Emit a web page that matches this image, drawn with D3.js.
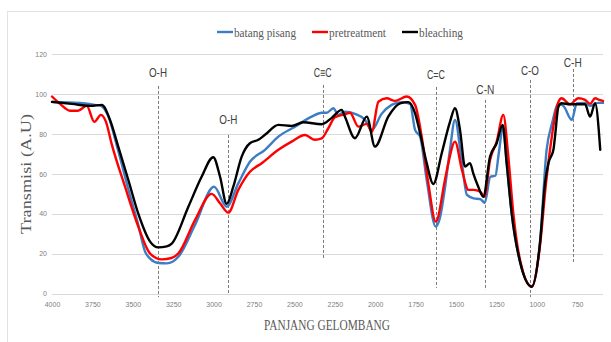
<!DOCTYPE html>
<html>
<head>
<meta charset="utf-8">
<script src="https://cdn.jsdelivr.net/npm/d3@7/dist/d3.min.js"></script>
<style>
  html, body { margin: 0; padding: 0; background: #fff; }
  svg { display: block; }
</style>
</head>
<body>
<script>
// FTIR spectra: wavenumber (cm-1) vs transmission (A.U)
const xTicks = [4000, 3750, 3500, 3250, 3000, 2750, 2500, 2250, 2000, 1750, 1500, 1250, 1000, 750];
const yTicks = [0, 20, 40, 60, 80, 100, 120];

const seriesNames = ["batang pisang", "pretreatment", "bleaching"];
const seriesColors = ["#3c7dc4", "#ff0000", "#000000"];

const batangPisang = [
  [4000, 96], [3827, 95.5], [3734, 94.5], [3697, 94], [3653, 89], [3592, 72], [3530, 53],
  [3468, 35], [3424, 21], [3393, 17.5], [3340, 15.3], [3290, 15.1], [3218, 18.4], [3115, 34.3], [2997, 53.5],
  [2919, 43.5], [2847, 55.2], [2775, 66], [2682, 72], [2599, 78.6], [2496, 83.6], [2393, 88.6],
  [2331, 90.6], [2300, 90.6], [2259, 92.8], [2228, 89.5], [2187, 91.1], [2125, 90], [2063, 87],
  [2021, 82], [1960, 90], [1898, 94.5], [1836, 95.9], [1784, 95], [1753, 82], [1722, 78.6],
  [1681, 56.9], [1625, 33.5], [1599, 38], [1568, 53], [1537, 72], [1506, 87], [1463, 65.3],
  [1432, 49.4], [1391, 47.7], [1349, 47.3], [1322, 45.5], [1287, 58.5], [1256, 59], [1235, 70.3],
  [1208, 83.5], [1186, 65], [1155, 40], [1104, 16], [1031, 3.6], [980, 25.5], [939, 72],
  [906, 85], [866, 95], [835, 94], [783, 87], [752, 95.3], [701, 95.5], [670, 94],
  [620, 95.5], [590, 95.5]
];

const pretreatment = [
  [4000, 98.7], [3950, 95], [3889, 91.6], [3839, 91.6], [3785, 94], [3738, 86], [3697, 89.5],
  [3666, 86], [3631, 75], [3548, 53.5], [3466, 33.5], [3393, 20], [3321, 17.1], [3260, 17.8], [3218, 20.1],
  [3115, 36.8], [3012, 49.9], [2960, 45.2], [2909, 40.5], [2847, 51.9], [2775, 61], [2702, 65.3],
  [2599, 72], [2517, 76.1], [2434, 79.4], [2372, 77], [2331, 77.7], [2290, 82.8], [2249, 88.3],
  [2187, 89.8], [2156, 90.6], [2104, 83.6], [2052, 85], [2021, 81], [1980, 96.1], [1929, 97.8],
  [1877, 96.5], [1805, 98.7], [1753, 94.5], [1712, 78.6], [1671, 55.2], [1625, 36], [1568, 57],
  [1547, 65.3], [1506, 76.1], [1463, 61.9], [1422, 51.9], [1391, 51.9], [1349, 51], [1324, 48.5],
  [1289, 66.9], [1248, 76.1], [1207, 89.5], [1176, 68.6], [1145, 40.2], [1104, 17], [1031, 3.4],
  [980, 24], [943, 55], [918, 72], [866, 96], [846, 97.8], [794, 94.8], [743, 97.8],
  [701, 97], [670, 95], [639, 97.8], [612, 97], [590, 96.5]
];

const bleaching = [
  [4000, 96], [3878, 95], [3760, 94], [3692, 94.5], [3641, 87], [3590, 73.6], [3528, 57],
  [3466, 40], [3393, 26], [3342, 23.1], [3290, 23.6], [3259, 25], [3156, 43.5], [3074, 58.5], [3002, 68.3],
  [2960, 58.5], [2919, 44.9], [2878, 53.5], [2826, 68.6], [2775, 75.3], [2723, 77], [2682, 79.5],
  [2599, 84.5], [2517, 84], [2445, 85.8], [2331, 84.8], [2269, 88], [2207, 92], [2187, 88.6],
  [2125, 77.8], [2052, 88.6], [2001, 73.6], [1919, 88.6], [1846, 95.3], [1795, 95.9], [1753, 90.3],
  [1722, 80.3], [1681, 65.3], [1640, 54.9], [1588, 70.3], [1537, 86], [1506, 92.8], [1475, 82],
  [1444, 63.6], [1413, 65.3], [1393, 60.2], [1362, 53.5], [1331, 48.5], [1289, 68.6], [1248, 75.3],
  [1211, 84.5], [1186, 65.3], [1155, 40.2], [1104, 16], [1031, 3.4], [980, 25.2], [949, 55.2],
  [928, 65.3], [897, 72], [887, 78.6], [866, 93.6], [846, 95.3], [794, 94.8], [701, 94.8],
  [670, 88.6], [639, 95.3], [607, 72]
];

// functional-group markers: position, label, dashed extent (transmission units)
const bandWn     = [3344, 2909, 2325, 1624, 1318, 1042, 777];
const bandLabel  = ["O-H", "O-H", "C≡C", "C=C", "C-N", "C-O", "C-H"];
const bandTop    = [104, 79.4, 104.5, 103.5, 97, 107, 112.5];
const bandBottom = [-1.8, -0.8, 17.8, 2.8, 1.7, -1.8, 15.8];
const bandText   = [110.5, 87, 110.5, 109.5, 102, 111.5, 115.5];

const W = 611, H = 342;
const svg = d3.select("body").append("svg").attr("width", W).attr("height", H);

// chart frame
svg.append("rect").attr("x", 7.5).attr("y", 11.5).attr("width", 620).attr("height", 340)
  .attr("fill", "#fff").attr("stroke", "#e2e2e2").attr("stroke-width", 1);

const x = d3.scaleLinear().domain([4000, 590]).range([52, 603]);
const y = d3.scaleLinear().domain([0, 120]).range([293.5, 54]);

// horizontal gridlines
svg.append("g").selectAll("line").data(yTicks).join("line")
  .attr("x1", x(4000)).attr("x2", x(590))
  .attr("y1", d => Math.round(y(d)) + 0.5).attr("y2", d => Math.round(y(d)) + 0.5)
  .attr("stroke", "#d9d9d9").attr("stroke-width", 1);

// axes (labels only)
const xAxis = svg.append("g").attr("transform", `translate(0,${y(0) + 9})`)
  .call(d3.axisBottom(x).tickValues(xTicks).tickSize(0).tickPadding(0).tickFormat(d3.format("d")));
xAxis.select(".domain").remove();
xAxis.selectAll("text").attr("fill", "#808080").attr("font-size", 7)
  .attr("font-family", "Liberation Sans, Arial, sans-serif");

const yAxis = svg.append("g").attr("transform", `translate(47,0)`)
  .call(d3.axisLeft(y).tickValues(yTicks).tickSize(0).tickPadding(0));
yAxis.select(".domain").remove();
yAxis.selectAll("text").attr("fill", "#808080").attr("font-size", 7)
  .attr("font-family", "Liberation Sans, Arial, sans-serif");

// dashed marker lines and labels
const bands = bandWn.map((wn, i) => ({ wn, label: bandLabel[i], top: bandTop[i], bottom: bandBottom[i], ty: bandText[i] }));
svg.append("g").selectAll("line").data(bands).join("line")
  .attr("x1", d => Math.round(x(d.wn)) + 0.5).attr("x2", d => Math.round(x(d.wn)) + 0.5)
  .attr("y1", d => y(d.top)).attr("y2", d => y(d.bottom))
  .attr("stroke", "#7a7a7a").attr("stroke-width", 1).attr("stroke-dasharray", "3,2");

svg.append("g").selectAll("text").data(bands).join("text")
  .attr("x", d => x(d.wn)).attr("y", d => y(d.ty) + 4.5)
  .attr("text-anchor", "middle")
  .attr("font-family", "Liberation Sans Narrow, Liberation Sans, Arial, sans-serif")
  .attr("font-size", 12).attr("fill", "#404040")
  .attr("textLength", 18).attr("lengthAdjust", "spacingAndGlyphs")
  .text(d => d.label);

// spectra
const line = d3.line().x(d => x(d[0])).y(d => y(d[1])).curve(d3.curveMonotoneX);
[batangPisang, pretreatment, bleaching].forEach((s, i) => {
  svg.append("path").datum(s).attr("d", line)
    .attr("fill", "none").attr("stroke", seriesColors[i])
    .attr("stroke-width", 2.4).attr("stroke-linejoin", "round").attr("stroke-linecap", "round");
});

// legend
const legendX = [217, 312, 402];
const legendW = [62, 57, 44];
const lg = svg.append("g");
seriesNames.forEach((name, i) => {
  lg.append("line").attr("x1", legendX[i]).attr("x2", legendX[i] + 16)
    .attr("y1", 32).attr("y2", 32).attr("stroke", seriesColors[i]).attr("stroke-width", 2.4);
  lg.append("text").attr("x", legendX[i] + 17).attr("y", 36.5)
    .attr("font-family", "Liberation Serif, 'Times New Roman', serif")
    .attr("font-size", 13).attr("fill", "#595959")
    .attr("textLength", legendW[i]).attr("lengthAdjust", "spacingAndGlyphs")
    .text(name);
});

// axis titles
svg.append("text").attr("x", 327).attr("y", 330).attr("text-anchor", "middle")
  .attr("font-family", "Liberation Serif, 'Times New Roman', serif")
  .attr("font-size", 14).attr("fill", "#595959")
  .attr("textLength", 126).attr("lengthAdjust", "spacingAndGlyphs")
  .text("PANJANG GELOMBANG");

svg.append("text").attr("transform", "translate(31,174) rotate(-90)").attr("text-anchor", "middle")
  .attr("font-family", "Liberation Serif, 'Times New Roman', serif")
  .attr("font-size", 14).attr("fill", "#595959")
  .attr("textLength", 120).attr("lengthAdjust", "spacingAndGlyphs")
  .text("Transmisi (A.U)");
</script>
</body>
</html>
